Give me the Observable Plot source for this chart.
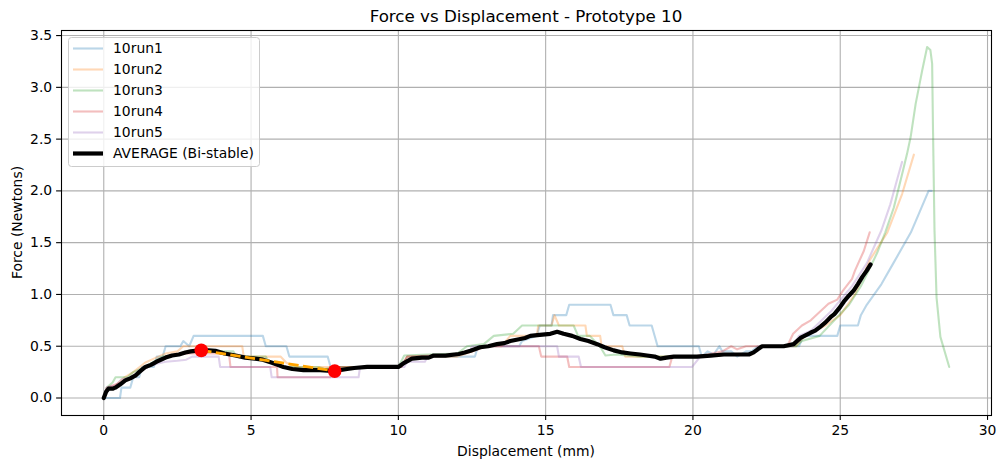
<!DOCTYPE html>
<html>
<head>
<meta charset="utf-8">
<script src="https://cdn.jsdelivr.net/npm/d3@7"></script>
<script src="https://cdn.jsdelivr.net/npm/@observablehq/plot@0.6"></script>
<style>
  html, body { margin: 0; padding: 0; background: white; }
  #chart { width: 1005px; height: 468px; }
</style>
</head>
<body>
<div id="chart"></div>
<script>
// ---------- DATA ----------
const title = "Force vs Displacement - Prototype 10";
const xLabel = "Displacement (mm)";
const yLabel = "Force (Newtons)";
const xTicks = [0, 5, 10, 15, 20, 25, 30];
const yTicks = [0, 0.5, 1.0, 1.5, 2.0, 2.5, 3.0, 3.5];
const seriesNames = ["10run1", "10run2", "10run3", "10run4", "10run5", "AVERAGE (Bi-stable)"];
const seriesColors = ["#1f77b4", "#ff7f0e", "#2ca02c", "#d62728", "#9467bd", "black"];

const run1 = [[0,0],[0.55,0],[0.6,0.1],[0.9,0.1],[1.0,0.2],[1.2,0.2],[1.3,0.3],[1.7,0.3],[1.8,0.4],[2.0,0.4],[2.1,0.5],[2.6,0.5],[2.7,0.55],[2.9,0.5],[3.05,0.6],[5.4,0.6],[5.5,0.5],[6.2,0.5],[6.3,0.4],[7.6,0.4],[7.7,0.3],[10.1,0.3],[10.2,0.35],[10.3,0.4],[12.6,0.4],[12.7,0.5],[14.1,0.5],[14.2,0.55],[14.7,0.6],[14.8,0.7],[15.2,0.7],[15.25,0.8],[15.7,0.8],[15.8,0.9],[17.2,0.9],[17.3,0.8],[17.75,0.8],[17.85,0.7],[18.6,0.7],[18.8,0.5],[20.2,0.5],[20.3,0.4],[20.5,0.45],[20.7,0.42],[20.9,0.5],[21.0,0.45],[21.3,0.45],[21.5,0.4],[21.8,0.45],[22.0,0.45],[22.2,0.5],[23.6,0.5],[23.75,0.6],[24.9,0.6],[25.0,0.7],[25.6,0.7],[25.7,0.8],[25.9,0.9],[26.4,1.1],[26.8,1.3],[27.4,1.6],[27.7,1.8],[28.0,2.0],[28.1,2.0]];
const run2 = [[0,0],[0.1,0.08],[0.4,0.12],[0.7,0.2],[1.0,0.25],[1.4,0.34],[1.7,0.38],[2.1,0.43],[2.5,0.45],[2.7,0.5],[4.7,0.5],[4.75,0.4],[6.0,0.4],[6.2,0.34],[6.5,0.3],[10.1,0.3],[10.3,0.4],[12.0,0.4],[12.5,0.45],[12.8,0.5],[13.5,0.5],[13.8,0.6],[14.7,0.6],[14.75,0.7],[15.2,0.7],[15.3,0.8],[15.45,0.7],[16.35,0.7],[16.4,0.6],[16.85,0.6],[16.9,0.5],[17.6,0.5],[17.7,0.4],[19.0,0.4],[20.0,0.4],[21.0,0.42],[22.0,0.42],[22.3,0.5],[23.5,0.5],[23.8,0.6],[24.5,0.7],[25.0,0.8],[25.5,1.0],[26.0,1.33],[26.6,1.6],[27.1,1.97],[27.5,2.35]];
const run3 = [[0,0],[0.1,0.1],[0.3,0.15],[0.4,0.2],[0.8,0.2],[1.0,0.25],[1.4,0.3],[1.7,0.35],[2.0,0.4],[2.5,0.42],[2.8,0.45],[4.4,0.45],[4.5,0.4],[5.5,0.4],[5.6,0.35],[5.9,0.35],[6.0,0.3],[7.3,0.3],[7.5,0.28],[7.9,0.3],[10.0,0.3],[10.2,0.41],[11.0,0.42],[12.0,0.43],[12.33,0.5],[12.9,0.52],[13.24,0.6],[13.9,0.62],[14.2,0.7],[15.95,0.7],[16.1,0.6],[16.5,0.6],[16.86,0.49],[17.03,0.41],[17.4,0.42],[18.2,0.4],[20.0,0.4],[21.0,0.42],[22.0,0.43],[22.3,0.5],[23.5,0.5],[23.7,0.55],[24.3,0.6],[24.8,0.75],[25.3,0.9],[25.7,1.08],[26.0,1.25],[26.25,1.4],[26.53,1.6],[26.82,1.84],[27.1,2.16],[27.27,2.36],[27.39,2.52],[27.56,2.84],[27.67,3.0],[27.78,3.16],[27.95,3.39],[28.06,3.36],[28.12,3.23],[28.15,2.58],[28.2,1.62],[28.27,0.97],[28.4,0.59],[28.7,0.3]];
const run4 = [[0,0],[0.1,0.1],[0.3,0.12],[0.6,0.15],[0.9,0.2],[1.2,0.25],[1.5,0.3],[1.8,0.35],[2.1,0.4],[2.4,0.42],[2.8,0.43],[4.25,0.43],[4.3,0.3],[5.88,0.3],[5.9,0.2],[7.69,0.2],[7.75,0.3],[10.1,0.3],[10.3,0.4],[12.0,0.42],[12.5,0.45],[13.0,0.5],[14.77,0.5],[14.85,0.4],[15.73,0.4],[15.8,0.3],[19.2,0.3],[19.3,0.4],[20.0,0.4],[20.5,0.42],[21.0,0.45],[21.3,0.5],[21.5,0.47],[21.8,0.5],[23.2,0.5],[23.4,0.62],[23.7,0.7],[24.0,0.75],[24.3,0.83],[24.6,0.91],[24.9,0.95],[25.1,1.04],[25.4,1.15],[25.5,1.23],[25.8,1.42],[26.0,1.6]];
const run5 = [[0,0],[0.1,0.1],[0.4,0.12],[0.6,0.18],[1.0,0.2],[1.2,0.25],[1.5,0.3],[1.8,0.33],[2.1,0.35],[2.5,0.36],[2.8,0.37],[3.0,0.4],[3.9,0.4],[3.95,0.3],[5.65,0.3],[5.7,0.2],[8.65,0.2],[8.7,0.3],[10.2,0.3],[10.3,0.35],[10.9,0.35],[11.0,0.4],[12.0,0.42],[12.4,0.45],[12.5,0.5],[15.39,0.5],[15.45,0.4],[16.12,0.4],[16.2,0.3],[19.97,0.3],[20.25,0.4],[21.0,0.42],[22.0,0.43],[22.3,0.5],[23.4,0.5],[23.6,0.6],[24.0,0.65],[24.7,0.84],[25.4,1.08],[25.9,1.3],[26.4,1.62],[26.7,1.87],[26.95,2.13],[27.1,2.28]];
const average = [[0,0],[0.08,0.06],[0.16,0.09],[0.3,0.09],[0.39,0.1],[0.55,0.13],[0.73,0.17],[0.9,0.19],[1.07,0.215],[1.2,0.25],[1.41,0.3],[1.6,0.32],[1.86,0.36],[2.1,0.39],[2.32,0.41],[2.55,0.42],[2.77,0.44],[2.95,0.45],[3.1,0.455],[3.31,0.46],[3.55,0.46],[3.79,0.455],[4.1,0.43],[4.47,0.41],[4.8,0.39],[5.14,0.38],[5.4,0.37],[5.71,0.34],[5.9,0.32],[6.1,0.3],[6.4,0.28],[6.78,0.27],[7.05,0.27],[7.35,0.27],[7.6,0.265],[7.84,0.26],[8.05,0.27],[8.26,0.28],[8.5,0.29],[8.94,0.3],[9.5,0.3],[10.0,0.3],[10.2,0.34],[10.46,0.38],[10.8,0.39],[11.03,0.39],[11.2,0.41],[11.6,0.41],[12.05,0.425],[12.25,0.44],[12.45,0.457],[12.78,0.49],[13.05,0.5],[13.35,0.52],[13.6,0.53],[13.8,0.55],[14.14,0.57],[14.3,0.58],[14.48,0.6],[14.8,0.61],[15.16,0.62],[15.39,0.64],[15.61,0.62],[15.9,0.6],[16.18,0.57],[16.45,0.55],[16.75,0.52],[17.0,0.49],[17.31,0.46],[17.6,0.44],[17.88,0.43],[18.2,0.42],[18.44,0.41],[18.7,0.4],[18.9,0.38],[19.1,0.39],[19.35,0.4],[19.8,0.4],[20.14,0.4],[20.6,0.41],[21.05,0.42],[21.4,0.42],[21.72,0.42],[21.9,0.42],[22.06,0.44],[22.2,0.47],[22.35,0.5],[22.8,0.5],[23.08,0.5],[23.42,0.52],[23.65,0.58],[23.99,0.63],[24.15,0.65],[24.33,0.69],[24.5,0.73],[24.67,0.78],[24.8,0.81],[25.0,0.88],[25.12,0.93],[25.3,0.99],[25.46,1.04],[25.6,1.1],[25.75,1.17],[25.9,1.23],[26.03,1.29]];
const keyPoints = [[3.31, 0.46], [7.84, 0.26]];

// ---------- CHART ----------
const W = 1005, H = 468;
const mL = 61, mR = 14, mT = 30, mB = 53;
const runs = [run1, run2, run3, run4, run5];
const px = d => d[0], py = d => d[1];
const gridStyle = {stroke: "#b0b0b0", strokeOpacity: 1, strokeWidth: 1.1};

const chart = Plot.plot({
  width: W, height: H,
  marginLeft: mL, marginRight: mR, marginTop: mT, marginBottom: mB,
  style: {fontFamily: "DejaVu Sans", fontSize: "13.9px", color: "black", background: "white", overflow: "visible"},
  x: {domain: [-1.435, 30.135]},
  y: {domain: [-0.169, 3.549]},
  marks: [
    Plot.gridX(xTicks, gridStyle),
    Plot.gridY(yTicks, gridStyle),
    ...runs.map((r, i) => Plot.line(r, {x: px, y: py, stroke: seriesColors[i], strokeOpacity: 0.3, strokeWidth: 2.1, strokeLinejoin: "round"})),
    Plot.line(average, {x: px, y: py, stroke: "black", strokeWidth: 4.2, strokeLinejoin: "round"}),
    Plot.line(keyPoints, {x: px, y: py, stroke: "orange", strokeWidth: 2.8, strokeDasharray: "10.3,4.4", strokeLinecap: "butt"}),
    Plot.dot(keyPoints, {x: px, y: py, r: 6.8, fill: "red", stroke: "none"}),
    Plot.frame({stroke: "black", strokeWidth: 1.1}),
    Plot.axisX(xTicks, {tickSize: 4.9, tickPadding: 4.4, strokeWidth: 1.1, stroke: "black", tickFormat: d3.format("d"), label: null}),
    Plot.axisY(yTicks, {tickSize: 4.9, tickPadding: 4.4, strokeWidth: 1.1, stroke: "black", tickFormat: d3.format(".1f"), label: null})
  ]
});

const svg = d3.select(chart);
const cx = (mL + W - mR) / 2;
svg.append("text").attr("x", cx).attr("y", 22).attr("text-anchor", "middle")
  .style("font-size", "16.7px").attr("fill", "black").text(title);
svg.append("text").attr("x", cx).attr("y", 456).attr("text-anchor", "middle")
  .style("font-size", "13.9px").attr("fill", "black").text(xLabel);
svg.append("text").attr("transform", `translate(22,${(mT + H - mB) / 2}) rotate(-90)`)
  .attr("text-anchor", "middle").style("font-size", "13.9px").attr("fill", "black").text(yLabel);

// legend
const lg = svg.append("g").attr("text-anchor", "start");
lg.append("rect").attr("x", 68.5).attr("y", 37.5).attr("width", 191).attr("height", 129).attr("rx", 3)
  .attr("fill", "white").attr("fill-opacity", 0.8).attr("stroke", "#cccccc").attr("stroke-width", 1);
seriesNames.forEach((name, i) => {
  const yy = 48.5 + i * 21;
  const isAvg = i === seriesNames.length - 1;
  lg.append("line").attr("x1", 73).attr("x2", 103).attr("y1", yy).attr("y2", yy)
    .attr("stroke", seriesColors[i]).attr("stroke-opacity", isAvg ? 1 : 0.3)
    .attr("stroke-width", isAvg ? 4.2 : 2.1);
  lg.append("text").attr("x", 113).attr("y", yy).attr("dy", "0.35em")
    .attr("text-anchor", "start").style("text-anchor", "start")
    .style("font-size", "13.9px").attr("fill", "black").text(name);
});

document.getElementById("chart").appendChild(chart);
</script>
</body>
</html>
